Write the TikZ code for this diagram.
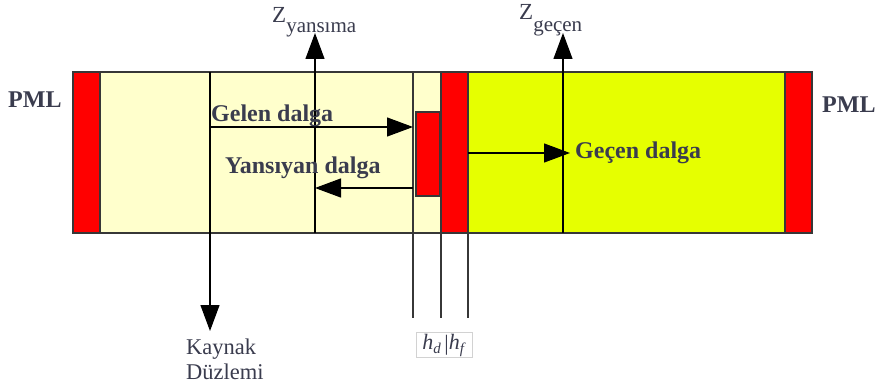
\documentclass[tikz,border=0pt]{standalone}
\usepackage{fontspec}
\setmainfont{Liberation Serif}
\usetikzlibrary{arrows.meta}
\definecolor{lightyel}{RGB}{255,255,204}
\definecolor{limey}{RGB}{230,255,0}
\definecolor{pmlred}{RGB}{255,0,0}
\definecolor{edge}{RGB}{55,55,55}
\definecolor{txt}{RGB}{58,60,78}
\tikzset{
  region/.style={draw=edge,line width=1.3pt,inner sep=0pt,outer sep=0pt,anchor=north west},
  vline/.style={draw=edge,line width=1.3pt},
  arr/.style={draw=black,line width=1.2pt,-{Triangle[length=26pt,width=19pt]}},
  lbl/.style={text=txt,inner sep=0pt,font=\fontsize{23}{27}\selectfont},
  blbl/.style={lbl,font=\fontsize{24}{28}\selectfont\bfseries},
}
\begin{document}
\begin{tikzpicture}[x=1pt,y=-1pt]
\useasboundingbox (0,0) rectangle (877,387);
\fill[white] (0,0) rectangle (877,387);
% regions
\node[region,fill=lightyel,minimum width=341pt,minimum height=161pt] (inc) at (100,72) {};
\node[region,fill=limey,minimum width=317pt,minimum height=161pt] (trans) at (468,72) {};
\node[region,fill=pmlred,minimum width=27pt,minimum height=161pt] (pmlL) at (73,72) {};
\node[region,fill=pmlred,minimum width=27pt,minimum height=161pt] (pmlR) at (785,72) {};
\node[region,fill=pmlred,minimum width=27pt,minimum height=161pt] (slab) at (441,72) {};
\node[region,fill=pmlred,minimum width=24pt,minimum height=84pt] (diel) at (416,112) {};
% coordinates
\coordinate (srcTop) at (210,72);
\coordinate (srcBot) at (210,331);
\coordinate (ryBot) at (315,233);
\coordinate (ryTop) at (315,33);
\coordinate (gcBot) at (563,233);
\coordinate (gcTop) at (563,33);
\coordinate (hA1) at (413,72);
\coordinate (hA2) at (413,318);
\coordinate (hB2) at (441,318);
\coordinate (hC2) at (468,318);
\coordinate (g1) at (210,127);
\coordinate (g2) at (413,127);
\coordinate (y1) at (413,188);
\coordinate (y2) at (315,188);
\coordinate (t1) at (468,153);
\coordinate (t2) at (570,153);
% lines
\draw[vline] (hA1) -- (hA2);
\draw[vline] (slab.south west) -- (hB2);
\draw[vline] (slab.south east) -- (hC2);
\draw[arr] (srcTop) -- (srcBot);
\draw[arr] (ryBot) -- (ryTop);
\draw[arr] (gcBot) -- (gcTop);
\draw[arr] (g1) -- (g2);
\draw[arr] (y1) -- (y2);
\draw[arr] (t1) -- (t2);
% labels
\node[blbl,anchor=base west] (pl) at (8,108) {PML};
\node[blbl,anchor=base west] (pr) at (822,113) {PML};
\node[blbl,anchor=base west] (gl) at (211,122) {Gelen dalga};
\node[blbl,anchor=base west] (yl) at (225,174) {Yansıyan dalga};
\node[blbl,anchor=base west] (tl) at (575,159) {Geçen dalga};
\node[lbl,anchor=base west] (zy) at (272,23) {Z\raisebox{-10pt}{\fontsize{21}{21}\selectfont yansıma}};
\node[lbl,anchor=base west] (zg) at (519,20) {Z\raisebox{-12pt}{\fontsize{21}{21}\selectfont geçen}};
\node[lbl,anchor=base west,align=left,font=\fontsize{22.5}{25}\selectfont] (kd) at (186,379) {Kaynak\\Düzlemi};
\node[draw=gray!35,line width=1pt,text=txt,inner sep=0pt,minimum width=56pt,minimum height=25pt,font=\fontsize{22}{25}\selectfont] (hb) at (444,345)
  {\textit{h}\raisebox{-4pt}{\fontsize{15}{15}\selectfont\textit{d}}\,\raisebox{-1pt}{\fontsize{22}{22}\selectfont|}\textit{h}\raisebox{-4pt}{\fontsize{15}{15}\selectfont\textit{f}}};
\end{tikzpicture}
\end{document}
